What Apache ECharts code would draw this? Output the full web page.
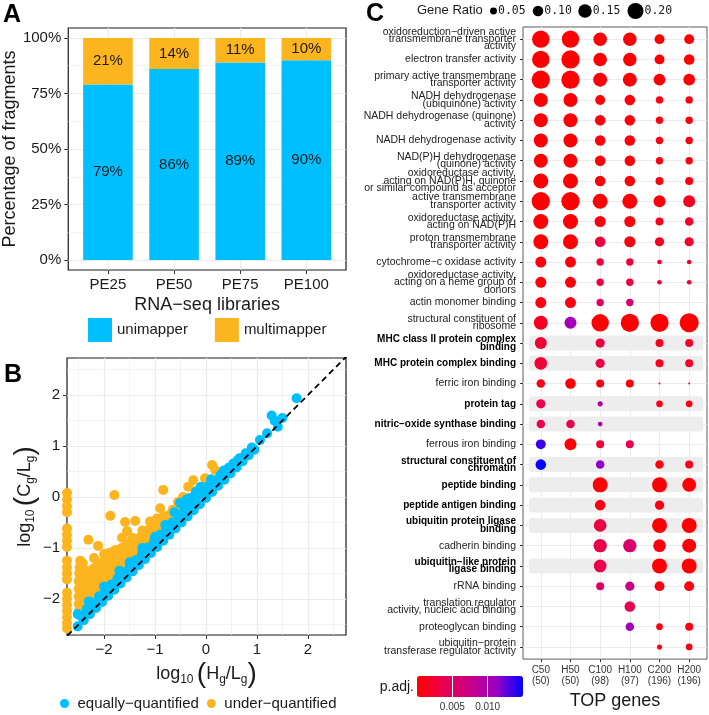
<!DOCTYPE html>
<html>
<head>
<meta charset="utf-8">
<script src="https://cdn.jsdelivr.net/npm/echarts@6/dist/echarts.min.js"></script>
<style>
  html, body { margin: 0; padding: 0; background: #fff; }
  #main { width: 709px; height: 715px; }
</style>
</head>
<body>
<div id="main"></div>
<script>
// ---------- panel A : fragments per library ----------
const libraries = ['PE25', 'PE50', 'PE75', 'PE100'];
const unimapper = [79, 86, 89, 90];
const multimapper = [21, 14, 11, 10];
const percentTicks = [0, 25, 50, 75, 100];
const percentMinor = [12.5, 37.5, 62.5, 87.5];

// ---------- panel B : log10(Cg/Lg) vs log10(Hg/Lg) ----------
const logTicks = [-2, -1, 0, 1, 2];
const logMinor = [-2.5, -1.5, -0.5, 0.5, 1.5, 2.5];
const diagonal = [[-3, -3], [3, 3]];
const underQuantified = [
  // genes with Hg = 0 (drawn on the left border)
  [-2.73, 0.08], [-2.73, -0.05], [-2.73, -0.18], [-2.73, -0.3], [-2.73, -0.62], [-2.73, -0.74],
  [-2.73, -0.86], [-2.73, -0.98], [-2.73, -1.25], [-2.73, -1.38], [-2.73, -1.5], [-2.73, -1.62],
  [-2.73, -1.88], [-2.73, -2.0], [-2.73, -2.12], [-2.73, -2.24], [-2.73, -2.36], [-2.73, -2.48], [-2.73, -2.58],
  // main cloud
  [-2.5, -2.25], [-2.5, -2.1], [-2.5, -1.95], [-2.5, -1.8], [-2.5, -1.65], [-2.49, -1.5], [-2.48, -1.38], [-2.47, -1.25],
  [-2.44, -2.18], [-2.44, -2.03], [-2.44, -1.88], [-2.44, -1.73], [-2.44, -1.58], [-2.43, -1.44], [-2.42, -1.3],
  [-2.38, -2.12], [-2.38, -1.98], [-2.38, -1.84], [-2.38, -1.7], [-2.38, -1.56], [-2.37, -1.45],
  [-2.32, -2.06], [-2.32, -1.91], [-2.32, -1.77], [-2.32, -1.63], [-2.32, -1.5],
  [-2.26, -2.0], [-2.26, -1.86], [-2.26, -1.72], [-2.26, -1.58], [-2.26, -1.45],
  [-2.2, -1.94], [-2.2, -1.79], [-2.2, -1.65], [-2.2, -1.52], [-2.2, -1.4],
  [-2.14, -1.88], [-2.14, -1.75], [-2.14, -1.62], [-2.14, -1.5], [-2.14, -1.36],
  [-2.08, -1.82], [-2.08, -1.69], [-2.08, -1.56], [-2.08, -1.44], [-2.08, -1.32],
  [-2.02, -1.77], [-2.02, -1.64], [-2.02, -1.52], [-2.02, -1.4], [-2.02, -1.27],
  [-1.96, -1.7], [-1.96, -1.57], [-1.96, -1.45], [-1.96, -1.32], [-1.96, -1.18],
  [-1.9, -1.64], [-1.9, -1.5], [-1.9, -1.37], [-1.9, -1.24], [-1.9, -1.1],
  [-1.84, -1.58], [-1.84, -1.45], [-1.84, -1.32], [-1.84, -1.19], [-1.84, -1.08],
  [-1.78, -1.52], [-1.78, -1.39], [-1.78, -1.26], [-1.78, -1.14], [-1.78, -1.04],
  [-1.72, -1.46], [-1.72, -1.33], [-1.72, -1.2], [-1.72, -1.07],
  [-1.66, -1.4], [-1.66, -1.27], [-1.66, -1.14], [-1.66, -1.0],
  [-1.6, -1.34], [-1.6, -1.22], [-1.6, -1.1], [-1.6, -0.98],
  [-1.54, -1.28], [-1.54, -1.16], [-1.54, -1.04], [-1.54, -0.94],
  [-1.48, -1.22], [-1.48, -1.1], [-1.48, -0.98], [-1.48, -0.9],
  [-1.42, -1.17], [-1.42, -1.05], [-1.42, -0.92],
  [-1.36, -1.11], [-1.36, -0.98], [-1.36, -0.86],
  [-1.3, -1.05], [-1.3, -0.92], [-1.3, -0.8],
  [-1.24, -0.99], [-1.24, -0.87], [-1.24, -0.75],
  [-1.18, -0.93], [-1.18, -0.81], [-1.18, -0.69],
  [-1.12, -0.87], [-1.12, -0.76], [-1.12, -0.64],
  [-1.06, -0.82], [-1.06, -0.71], [-1.06, -0.6],
  [-1.0, -0.76], [-1.0, -0.64], [-1.0, -0.53],
  [-0.94, -0.7], [-0.94, -0.58], [-0.94, -0.46],
  [-0.88, -0.64], [-0.88, -0.52], [-0.88, -0.42],
  [-0.82, -0.58], [-0.82, -0.47], [-0.82, -0.38],
  [-0.76, -0.52], [-0.76, -0.4], [-0.7, -0.46], [-0.7, -0.34],
  [-0.64, -0.4], [-0.64, -0.29], [-0.58, -0.34], [-0.58, -0.23],
  [-0.52, -0.28], [-0.52, -0.18], [-0.46, -0.22], [-0.46, -0.13],
  [-0.4, -0.16], [-0.4, -0.07], [-0.34, -0.1], [-0.34, -0.02], [-0.28, -0.04], [-0.22, 0.03],
  // scattered points
  [-2.31, -0.84], [-2.12, -0.96], [-2.2, -1.2], [-2.0, -1.12], [-1.88, -0.37], [-1.8, 0.04],
  [-1.65, -0.8], [-1.59, -0.49], [-1.55, -0.67], [-1.39, -0.47], [-1.45, -0.8], [-1.25, -0.66],
  [-1.1, -0.48], [-0.96, -0.42], [-0.9, -0.22], [-0.84, 0.14], [-0.65, -0.25], [-0.55, -0.1],
  [-0.45, 0.0], [-0.35, 0.2], [-0.25, 0.33], [-0.2, 0.12], [-0.1, 0.18], [-0.02, 0.37],
  [0.05, 0.28], [0.12, 0.63], [0.18, 0.53]
];
const equallyQuantified = [
  [-2.52, -2.54], [-2.4, -2.42], [-2.28, -2.3], [-2.16, -2.18], [-2.04, -2.06], [-1.92, -1.94],
  [-1.8, -1.82], [-1.68, -1.7], [-1.56, -1.58], [-1.44, -1.46], [-1.32, -1.34], [-1.2, -1.22],
  [-1.08, -1.1], [-0.96, -0.98], [-0.84, -0.86], [-0.72, -0.74], [-0.6, -0.62], [-0.48, -0.5],
  [-0.36, -0.38], [-0.24, -0.26], [-0.12, -0.14], [0, -0.02], [0.12, 0.1], [0.24, 0.22],
  [0.36, 0.34], [0.48, 0.46], [0.6, 0.58], [0.72, 0.7], [0.84, 0.82], [0.95, 0.93],
  [-2.52, -2.3], [-2.46, -2.33], [-2.34, -2.2], [-2.22, -2.08], [-2.1, -1.95], [-1.98, -1.84],
  [-1.86, -1.72], [-1.74, -1.6], [-1.62, -1.48], [-1.5, -1.36], [-1.38, -1.24], [-1.26, -1.12],
  [-1.14, -0.99], [-1.02, -0.87], [-0.9, -0.74], [-0.78, -0.62], [-0.66, -0.5], [-0.54, -0.36],
  [-0.42, -0.24], [-0.3, -0.12], [-0.18, 0.02], [-0.06, 0.12], [0.06, 0.22], [0.18, 0.32],
  [0.3, 0.44], [0.42, 0.54], [0.54, 0.66], [0.66, 0.76], [0.78, 0.86], [0.9, 0.97],
  [-2.3, -2.05], [-2.0, -1.76], [-1.7, -1.45], [-1.5, -1.28], [-1.25, -1.0], [-1.0, -0.78],
  [-0.8, -0.55], [-0.62, -0.3], [-0.51, -0.12], [-0.45, -0.15], [-0.38, -0.05], [-0.3, -0.02],
  [-0.2, 0.1], [-0.1, 0.2], [0.03, 0.2], [0.1, 0.35], [0.15, 0.3], [0.28, 0.42], [0.35, 0.52],
  [0.45, 0.58], [0.62, 0.72], [0.76, 0.8],
  [1.06, 1.12], [1.2, 1.25], [1.29, 1.6], [1.35, 1.5], [1.41, 1.38], [1.5, 1.55], [1.78, 1.94]
];

// ---------- panel C : GO enrichment ----------
const topSets = ['C50\n(50)', 'H50\n(50)', 'C100\n(98)', 'H100\n(97)', 'C200\n(196)', 'H200\n(196)'];
const goTerms = [
  'oxidoreduction\u2212driven active\ntransmembrane transporter\nactivity',
  'electron transfer activity',
  'primary active transmembrane\ntransporter activity',
  'NADH dehydrogenase\n(ubiquinone) activity',
  'NADH dehydrogenase (quinone)\nactivity',
  'NADH dehydrogenase activity',
  'NAD(P)H dehydrogenase\n(quinone) activity',
  'oxidoreductase activity,\nacting on NAD(P)H, quinone\nor similar compound as acceptor',
  'active transmembrane\ntransporter activity',
  'oxidoreductase activity,\nacting on NAD(P)H',
  'proton transmembrane\ntransporter activity',
  'cytochrome\u2212c oxidase activity',
  'oxidoreductase activity,\nacting on a heme group of\ndonors',
  'actin monomer binding',
  'structural constituent of\nribosome',
  'MHC class II protein complex\nbinding',
  'MHC protein complex binding',
  'ferric iron binding',
  'protein tag',
  'nitric\u2212oxide synthase binding',
  'ferrous iron binding',
  'structural constituent of\nchromatin',
  'peptide binding',
  'peptide antigen binding',
  'ubiquitin protein ligase\nbinding',
  'cadherin binding',
  'ubiquitin\u2212like protein\nligase binding',
  'rRNA binding',
  'translation regulator\nactivity, nucleic acid binding',
  'proteoglycan binding',
  'ubiquitin\u2212protein\ntransferase regulator activity'
];
const boldTerms = [
  false, false, false, false, false, false, false, false, false, false, false, false, false, false, false,
  true, true, false, true, true, false, true, true, true, true, false, true, false, false, false, false
];
// gene ratio per term, columns in topSets order (null = not enriched)
const geneRatio = [
  [0.23, 0.23, 0.15, 0.15, 0.09, 0.09],
  [0.23, 0.25, 0.15, 0.15, 0.09, 0.10],
  [0.25, 0.25, 0.16, 0.16, 0.12, 0.12],
  [0.16, 0.16, 0.09, 0.10, 0.055, 0.055],
  [0.16, 0.16, 0.10, 0.10, 0.055, 0.055],
  [0.16, 0.16, 0.10, 0.10, 0.055, 0.055],
  [0.16, 0.16, 0.10, 0.10, 0.055, 0.055],
  [0.18, 0.18, 0.10, 0.10, 0.063, 0.063],
  [0.25, 0.25, 0.18, 0.18, 0.124, 0.124],
  [0.18, 0.18, 0.11, 0.11, 0.063, 0.07],
  [0.18, 0.18, 0.10, 0.11, 0.08, 0.08],
  [0.107, 0.107, 0.055, 0.055, 0.026, 0.026],
  [0.107, 0.107, 0.055, 0.055, 0.026, 0.026],
  [0.107, 0.107, 0.055, 0.055, null, null],
  [0.16, 0.124, 0.23, 0.25, 0.25, 0.27],
  [0.124, null, 0.08, null, 0.063, 0.063],
  [0.136, null, 0.08, null, 0.063, 0.063],
  [0.07, 0.10, 0.063, 0.063, 0.006, 0.006],
  [0.08, null, 0.03, null, 0.047, 0.047],
  [0.07, 0.07, 0.026, null, null, null],
  [0.09, 0.124, 0.063, 0.063, null, null],
  [0.10, null, 0.07, null, 0.07, 0.063],
  [null, null, 0.18, null, 0.18, 0.16],
  [null, null, 0.10, null, 0.08, null],
  [null, null, 0.136, null, 0.18, 0.18],
  [null, null, 0.15, 0.15, 0.136, 0.16],
  [null, null, 0.136, null, 0.18, 0.18],
  [null, null, 0.063, 0.08, 0.09, 0.09],
  [null, null, null, 0.10, null, null],
  [null, null, null, 0.07, 0.047, 0.063],
  [null, null, null, null, 0.03, 0.047]
];
const pAdjust = [
  [0.0002, 0.0002, 0.0002, 0.0002, 0.0002, 0.0002],
  [0.0002, 0.0002, 0.0002, 0.0002, 0.0002, 0.0002],
  [0.0002, 0.0002, 0.0002, 0.0002, 0.0002, 0.0002],
  [0.0002, 0.0002, 0.0004, 0.0004, 0.0008, 0.0008],
  [0.0002, 0.0002, 0.0004, 0.0004, 0.0008, 0.0008],
  [0.0002, 0.0002, 0.0004, 0.0004, 0.0008, 0.0008],
  [0.0002, 0.0002, 0.0004, 0.0004, 0.0008, 0.0008],
  [0.0002, 0.0002, 0.0004, 0.0004, 0.0008, 0.0008],
  [0.0002, 0.0002, 0.0003, 0.0003, 0.0005, 0.0015],
  [0.0002, 0.0002, 0.0006, 0.0006, 0.0015, 0.002],
  [0.0002, 0.0002, 0.003, 0.0008, 0.0015, 0.002],
  [0.0005, 0.0005, 0.0025, 0.0025, 0.002, 0.002],
  [0.0005, 0.0005, 0.003, 0.003, 0.002, 0.0025],
  [0.0008, 0.0008, 0.0045, 0.006, null, null],
  [0.0015, 0.0105, 0.0002, 0.0002, 0.0002, 0.0002],
  [0.0025, null, 0.003, null, 0.0015, 0.002],
  [0.0025, null, 0.003, null, 0.0015, 0.002],
  [0.0012, 0.0003, 0.0008, 0.0006, 0.0008, 0.0008],
  [0.0035, null, 0.0095, null, 0.0008, 0.0008],
  [0.0035, 0.0035, 0.0095, null, null, null],
  [0.0135, 0.0003, 0.0025, 0.0035, null, null],
  [0.0149, null, 0.0115, null, 0.0008, 0.0015],
  [null, null, 0.0003, null, 0.0003, 0.0003],
  [null, null, 0.0008, null, 0.0008, null],
  [null, null, 0.003, null, 0.0003, 0.0003],
  [null, null, 0.0035, 0.0055, 0.0008, 0.0005],
  [null, null, 0.0035, null, 0.0003, 0.0003],
  [null, null, 0.005, 0.0075, 0.0008, 0.0008],
  [null, null, null, 0.0035, null, null],
  [null, null, null, 0.0105, 0.0008, 0.0008],
  [null, null, null, null, 0.0008, 0.0008]
];
const sizeBreaks = [0.05, 0.10, 0.15, 0.20];
const pAdjTicks = [0.005, 0.010];

// ---------- styling ----------
const FONT = '"Liberation Sans", Arial, Helvetica, sans-serif';
const BLUE = '#00BFFF';
const ORANGE = '#FCB51F';
const GRID_LINE = '#EBEBEB';
const INK = '#1A1A1A';
const TICK = { length: 4, lineStyle: { color: '#333', width: 1 } };
const NO_LINE = { show: false, onZero: false };

function minus(v) { return String(v).replace('-', '\u2212'); }
function sizeOf(ratio) { return 42 * Math.pow(ratio, 0.6); }

// stacked bars: [library position, bottom, top, share]
const uniBars = libraries.map((l, i) => [i + 1, 0, unimapper[i], unimapper[i]]);
const multiBars = libraries.map((l, i) => [i + 1, unimapper[i], unimapper[i] + multimapper[i], multimapper[i]]);

const dotData = [];
geneRatio.forEach((row, r) => row.forEach((ratio, c) => {
  if (ratio != null) dotData.push([c, r, ratio, pAdjust[r][c]]);
}));
const stripData = [];
boldTerms.forEach((b, r) => { if (b) stripData.push([0, r]); });

function renderStackBar(params, api) {
  const x = api.value(0);
  const p0 = api.coord([x, api.value(1)]);
  const p1 = api.coord([x, api.value(2)]);
  const w = api.size([0.75, 0])[0];
  return {
    type: 'group',
    children: [
      { type: 'rect', shape: { x: p0[0] - w / 2, y: p1[1], width: w, height: p0[1] - p1[1] }, style: { fill: api.visual('color') } },
      {
        type: 'text', x: p0[0], y: (p0[1] + p1[1]) / 2,
        style: { text: api.value(3) + '%', font: '15px ' + FONT, fill: INK, textAlign: 'center', textVerticalAlign: 'middle' }
      }
    ]
  };
}

const logRich = {
  m: { fontSize: 18, fontFamily: FONT, color: INK },
  s: { fontSize: 12, fontFamily: FONT, color: INK, padding: [12, 0, 0, 0] },
  p: { fontSize: 28, fontFamily: FONT, color: INK, fontWeight: 'lighter' }
};
const logName = (v) => `{m|log}{s|10} {p|(}{m|${v}}{s|g}{m|/}{m|L}{s|g}{p|)}`;

const hiddenAxis = (extra) => Object.assign({
  axisLine: NO_LINE, axisLabel: { show: false },
  splitLine: { show: true, lineStyle: { color: GRID_LINE, width: 0.6 } }
}, extra);

const myChart = echarts.init(document.getElementById('main'), null, { renderer: 'canvas' });

// gene ratio size legend
const legendCx = [493.5, 538, 585, 635.5];
const sizeLegend = [{
  type: 'text', x: 417, y: 10,
  style: { text: 'Gene Ratio', font: '13px ' + FONT, fill: INK, textVerticalAlign: 'middle' }
}];
sizeBreaks.forEach((v, i) => {
  const r = sizeOf(v) / 2;
  sizeLegend.push({ type: 'circle', shape: { cx: legendCx[i], cy: 11, r: r }, style: { fill: '#000' } });
  sizeLegend.push({
    type: 'text', x: legendCx[i] + r + 1, y: 11,
    style: { text: v.toFixed(2), font: '11.5px "DejaVu Sans Mono", monospace', fill: INK, textVerticalAlign: 'middle' }
  });
});

const option = {
  animation: false,
  textStyle: { fontFamily: FONT },
  grid: [
    { left: 67, top: 28, width: 279, height: 242, show: true, borderColor: '#1a1a1a', borderWidth: 1.2, backgroundColor: 'transparent' },
    { left: 67, top: 358, width: 279, height: 277, show: true, borderColor: '#1a1a1a', borderWidth: 1.2, backgroundColor: 'transparent' },
    { left: 523, top: 27, width: 184, height: 637, show: true, borderColor: '#333', borderWidth: 0.8, backgroundColor: 'transparent' },
    { left: 417, top: 676, width: 106, height: 21 }
  ],
  xAxis: [
    {
      gridIndex: 0, type: 'value', min: 0.4, max: 4.6,
      axisLine: NO_LINE,
      axisTick: Object.assign({ customValues: [1, 2, 3, 4] }, TICK),
      axisLabel: { customValues: [1, 2, 3, 4], formatter: (v) => libraries[v - 1], fontSize: 15, color: INK, margin: 7 },
      splitLine: { show: true, lineStyle: { color: GRID_LINE, width: 1.2 } },
      name: 'RNA\u2212seq libraries', nameLocation: 'middle', nameGap: 26,
      nameTextStyle: { fontSize: 18, color: INK }
    },
    {
      gridIndex: 1, type: 'value', min: -2.73, max: 2.75,
      axisLine: NO_LINE,
      axisTick: Object.assign({ customValues: logTicks }, TICK),
      axisLabel: { customValues: logTicks, formatter: minus, fontSize: 15, color: INK, margin: 7 },
      splitLine: { show: true, lineStyle: { color: GRID_LINE, width: 1.2 } },
      name: logName('H'), nameLocation: 'middle', nameGap: 25,
      nameTextStyle: { rich: logRich }
    },
    hiddenAxis({ gridIndex: 1, type: 'value', min: -2.73, max: 2.75, axisTick: { show: false, customValues: logMinor } }),
    {
      gridIndex: 2, type: 'value', min: -0.6, max: 5.6,
      axisLine: NO_LINE,
      axisTick: { customValues: [0, 1, 2, 3, 4, 5], length: 3, lineStyle: { color: '#333' } },
      axisLabel: { customValues: [0, 1, 2, 3, 4, 5], formatter: (v) => topSets[v], fontSize: 10, lineHeight: 11, color: '#333', margin: 6 },
      splitLine: { show: true, lineStyle: { color: GRID_LINE, width: 1 } },
      name: 'TOP genes', nameLocation: 'middle', nameGap: 29,
      nameTextStyle: { fontSize: 18, color: INK }
    },
    {
      gridIndex: 3, type: 'value', min: 0, max: 0.015, z: 8,
      axisLine: NO_LINE,
      axisTick: { customValues: pAdjTicks, inside: true, length: 21, lineStyle: { color: '#fff', width: 1 } },
      axisLabel: { customValues: pAdjTicks, formatter: (v) => v.toFixed(3), fontSize: 10, color: '#333', margin: 5 },
      splitLine: { show: false }
    }
  ],
  yAxis: [
    {
      gridIndex: 0, type: 'value', min: -4.5, max: 104.5,
      axisLine: NO_LINE,
      axisTick: Object.assign({ customValues: percentTicks }, TICK),
      axisLabel: { customValues: percentTicks, formatter: (v) => v + '%', fontSize: 15, color: INK, margin: 7 },
      splitLine: { show: true, lineStyle: { color: GRID_LINE, width: 1.2 } },
      name: 'Percentage of fragments', nameLocation: 'middle', nameGap: 48,
      nameTextStyle: { fontSize: 18, color: INK }
    },
    hiddenAxis({ gridIndex: 0, type: 'value', min: -4.5, max: 104.5, axisTick: { show: false, customValues: percentMinor } }),
    {
      gridIndex: 1, type: 'value', min: -2.71, max: 2.73,
      axisLine: NO_LINE,
      axisTick: Object.assign({ customValues: logTicks }, TICK),
      axisLabel: { customValues: logTicks, formatter: minus, fontSize: 15, color: INK, margin: 7 },
      splitLine: { show: true, lineStyle: { color: GRID_LINE, width: 1.2 } },
      name: logName('C'), nameLocation: 'middle', nameGap: 19,
      nameTextStyle: { rich: logRich }
    },
    hiddenAxis({ gridIndex: 1, type: 'value', min: -2.71, max: 2.73, axisTick: { show: false, customValues: logMinor } }),
    {
      gridIndex: 2, type: 'value', min: -0.6, max: 30.6, inverse: true,
      axisLine: NO_LINE,
      axisTick: { customValues: goTerms.map((t, i) => i), length: 3, lineStyle: { color: '#333' } },
      axisLabel: {
        customValues: goTerms.map((t, i) => i), margin: 7,
        formatter: (v) => (boldTerms[v] ? '{b|' : '{n|') + goTerms[v] + '}',
        rich: {
          n: { fontSize: 10.5, lineHeight: 7.4, color: '#222', fontFamily: FONT, align: 'right' },
          b: { fontSize: 10, lineHeight: 7.4, color: '#000', fontWeight: 'bold', fontFamily: FONT, align: 'right' }
        }
      },
      splitLine: { show: true, lineStyle: { color: GRID_LINE, width: 1 } }
    },
    { gridIndex: 3, type: 'value', min: 0, max: 1, show: false, axisLine: NO_LINE }
  ],
  legend: [
    {
      data: ['unimapper', 'multimapper'], left: 88, top: 318, icon: 'rect', padding: 0,
      itemWidth: 24, itemHeight: 24, itemGap: 27, selectedMode: false,
      textStyle: { fontSize: 15, color: INK, fontFamily: FONT }
    },
    {
      data: ['equally-quantified', 'under-quantified'], left: 60, top: 696, icon: 'circle', padding: 0,
      itemWidth: 16, itemHeight: 9, itemGap: 8, selectedMode: false,
      formatter: minus,
      textStyle: { fontSize: 15, color: INK, fontFamily: FONT }
    }
  ],
  visualMap: {
    type: 'continuous', seriesIndex: 6, dimension: 3, min: 0, max: 0.015,
    inRange: { color: ['#FF0000', '#E80050', '#C90088', '#9A00C3', '#0000FF'] },
    orient: 'horizontal', left: 417, top: 676, itemWidth: 21, itemHeight: 106,
    text: null, calculable: false, padding: 0, hoverLink: false
  },
  graphic: [
    { type: 'text', x: 3, y: 3, style: { text: 'A', font: 'bold 25px ' + FONT, fill: '#000' } },
    { type: 'text', x: 4, y: 363, style: { text: 'B', font: 'bold 25px ' + FONT, fill: '#000' } },
    { type: 'text', x: 366, y: 2, style: { text: 'C', font: 'bold 25px ' + FONT, fill: '#000' } },
    { type: 'text', x: 414, y: 687, style: { text: 'p.adj.', font: '14px ' + FONT, fill: INK, textAlign: 'right', textVerticalAlign: 'middle' } }
  ].concat(sizeLegend),
  series: [
    {
      name: 'unimapper', type: 'custom', xAxisIndex: 0, yAxisIndex: 0,
      itemStyle: { color: BLUE }, renderItem: renderStackBar, data: uniBars
    },
    {
      name: 'multimapper', type: 'custom', xAxisIndex: 0, yAxisIndex: 0,
      itemStyle: { color: ORANGE }, renderItem: renderStackBar, data: multiBars
    },
    {
      name: 'under-quantified', type: 'scatter', xAxisIndex: 1, yAxisIndex: 2, clip: true,
      symbolSize: 10, itemStyle: { color: ORANGE, opacity: 1 }, data: underQuantified
    },
    {
      name: 'equally-quantified', type: 'scatter', xAxisIndex: 1, yAxisIndex: 2, clip: true,
      symbolSize: 10, itemStyle: { color: BLUE, opacity: 1 }, data: equallyQuantified
    },
    {
      type: 'line', xAxisIndex: 1, yAxisIndex: 2, clip: true, silent: true, symbol: 'none', z: 5,
      lineStyle: { color: '#000', width: 1.8, type: [6, 4] }, data: diagonal
    },
    {
      type: 'custom', xAxisIndex: 3, yAxisIndex: 4, silent: true, z: 1,
      renderItem: (params, api) => {
        const cs = params.coordSys;
        const y = api.coord([0, api.value(1)])[1];
        const h = api.size([0, 1])[1] * 0.74;
        return {
          type: 'rect',
          shape: { x: cs.x + 6, y: y - h / 2, width: cs.width - 10, height: h, r: 3 },
          style: { fill: '#EDEDED' }
        };
      },
      data: stripData
    },
    {
      name: 'GO', type: 'scatter', xAxisIndex: 3, yAxisIndex: 4, z: 3,
      symbolSize: (val) => sizeOf(val[2]),
      itemStyle: { opacity: 1 },
      data: dotData
    }
  ]
};

myChart.setOption(option);
window.addEventListener('resize', () => myChart.resize());
</script>
</body>
</html>
